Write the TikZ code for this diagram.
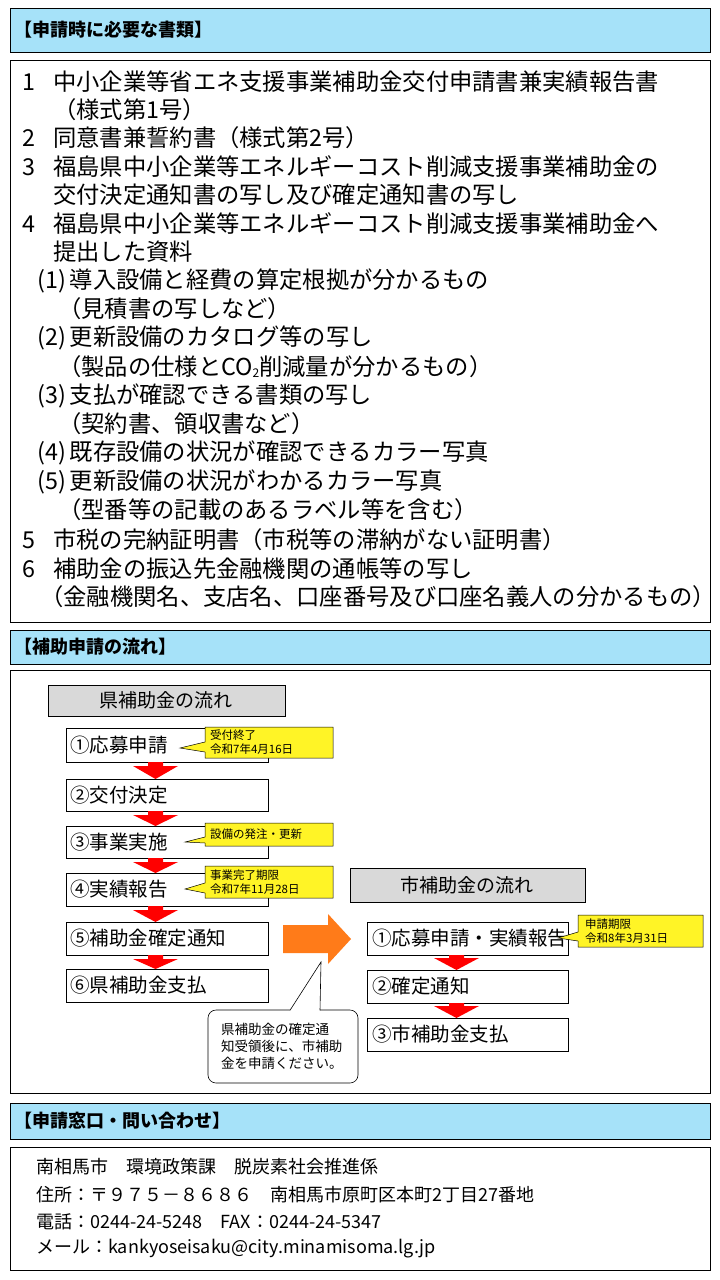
\documentclass[tikz,border=0pt]{standalone}
\usepackage{fontspec}
\setmainfont{Noto Sans CJK JP}
\begin{document}
\begin{tikzpicture}[x=1pt,y=-1pt,
  hdr/.style={draw=black,fill=cyan!35!white,line width=0.8pt},
  frame/.style={draw=black,line width=0.8pt},
  ln/.style={anchor=west,inner sep=0pt,font=\fontsize{23.3}{24}\selectfont},
  fbox/.style={draw=black,line width=0.8pt,fill=white},
  ftxt/.style={anchor=west,inner sep=0pt,font=\fontsize{19.5}{22}\selectfont},
  note/.style={draw=black,line width=0.5pt,fill=yellow!85!white},
  ntxt/.style={anchor=west,inner sep=0pt,align=left,font=\fontsize{11.5}{13.5}\selectfont},
  ctxt/.style={anchor=west,inner sep=0pt,font=\fontsize{18}{20}\selectfont},
  redarr/.style={fill=red,draw=none},
  gbox/.style={draw=black,line width=0.8pt,fill=gray!30}]
\useasboundingbox (0,0) rectangle (720,1280);
\fill[white] (0,0) rectangle (720,1280);
% header 1
\draw[hdr] (10,8) rectangle (710,52);
\node[ln,font=\bfseries\fontsize{18}{20}\selectfont] (h1) at (14,30) {【申請時に必要な書類】};
\draw[frame] (10,60) rectangle (710,622);
\foreach \y/\t [count=\i] in {82/1,138/2,167/3,224/4,540/5,569/6}{\node[ln] (n\i) at (22,\y) {\t};}
\node[ln] (a1) at (53,82) {中小企業等省エネ支援事業補助金交付申請書兼実績報告書};
\node[ln] (a2) at (53,110) {（様式第1号）};
\node[ln] (a3) at (53,138) {同意書兼誓約書（様式第2号）};
\node[ln] (a4) at (53,167) {福島県中小企業等エネルギーコスト削減支援事業補助金の};
\node[ln] (a5) at (53,195) {交付決定通知書の写し及び確定通知書の写し};
\node[ln] (a6) at (53,224) {福島県中小企業等エネルギーコスト削減支援事業補助金へ};
\node[ln] (a7) at (53,252) {提出した資料};
\node[ln] (b1) at (37,281) {(1)\,導入設備と経費の算定根拠が分かるもの};
\node[ln] (b2) at (58,309) {（見積書の写しなど）};
\node[ln] (b3) at (37,338) {(2)\,更新設備のカタログ等の写し};
\node[ln] (b4) at (58,367) {（製品の仕様とCO\raisebox{-2pt}{\fontsize{12}{12}\selectfont 2}削減量が分かるもの）};
\node[ln] (b5) at (37,396) {(3)\,支払が確認できる書類の写し};
\node[ln] (b6) at (58,424) {（契約書、領収書など）};
\node[ln] (b7) at (37,453) {(4)\,既存設備の状況が確認できるカラー写真};
\node[ln] (b8) at (37,482) {(5)\,更新設備の状況がわかるカラー写真};
\node[ln] (b9) at (58,510) {（型番等の記載のあるラベル等を含む）};
\node[ln] (c1) at (53,540) {市税の完納証明書（市税等の滞納がない証明書）};
\node[ln] (c2) at (53,569) {補助金の振込先金融機関の通帳等の写し};
\node[ln] (c3) at (40,597) {（金融機関名、支店名、口座番号及び口座名義人の分かるもの）};
% header 2
\draw[hdr] (10,630) rectangle (710,664);
\node[ln,font=\bfseries\fontsize{18}{20}\selectfont] (h2) at (14,647) {【補助申請の流れ】};
\draw[frame] (10,670) rectangle (710,1093);
% left flow
\draw[gbox] (48,685) rectangle (285,716);
\node[font=\fontsize{19}{22}\selectfont] (g1) at (166,700) {県補助金の流れ};
\foreach \t/\b/\txt [count=\i] in {728/762/①応募申請,779/811/②交付決定,826/858/③事業実施,873/906/④実績報告,922/955/⑤補助金確定通知,969/1002/⑥県補助金支払}{
  \draw[fbox] (66,\t) rectangle (268,\b);
  \node[ftxt] (L\i) at (70,{(\t+\b)/2}) {\txt};
}
\foreach \a/\b in {762/779,811/826,858/873,906/922,955/969}{
  \fill[redarr] (148,\a) -- (163,\a) -- (163,{\a+4}) -- (178,{\a+4}) -- (155.5,\b) -- (133,{\a+4}) -- (148,{\a+4}) -- cycle;
}
% callouts
\draw[note] (205,727) -- (333,727) -- (333,758) -- (205,758) -- (205,752) -- (180,748) -- (205,742) -- cycle;
\node[ntxt] (k1) at (210,742) {受付終了\\令和7年4月16日};
\draw[note] (205,823) -- (333,823) -- (333,846) -- (205,846) -- (205,843) -- (185,842) -- (205,837) -- cycle;
\node[ntxt] (k2) at (210,834) {設備の発注・更新};
\draw[note] (205,866) -- (333,866) -- (333,898) -- (205,898) -- (205,893) -- (185,889) -- (205,883) -- cycle;
\node[ntxt] (k3) at (210,882) {事業完了期限\\令和7年11月28日};
% orange arrow
\fill[orange!85!red!90!white] (283,925) -- (328,925) -- (328,914) -- (351,939) -- (328,964) -- (328,953) -- (283,953) -- cycle;
% bubble
\draw[line width=0.6pt,fill=white,rounded corners=8pt] (290,1010) -- (208,1010) -- (208,1083) -- (358,1083) -- (358,1010) -- (320,1010);
\draw[line width=0.6pt] (290,1010.3) -- (321,962) -- (320,1010.3);
\node[anchor=north west,inner sep=0pt,align=left,font=\fontsize{13.5}{17}\selectfont] (bub) at (221,1023) {県補助金の確定通\\知受領後に、市補助\\金を申請ください。};
% right flow
\draw[gbox] (350,868) rectangle (585,902);
\node[font=\fontsize{19}{22}\selectfont] (g2) at (467,885) {市補助金の流れ};
\foreach \t/\b/\txt [count=\i] in {922/955/①応募申請・実績報告,970/1003/②確定通知,1018/1051/③市補助金支払}{
  \draw[fbox] (367,\t) rectangle (568,\b);
  \node[ftxt] (R\i) at (372,{(\t+\b)/2}) {\txt};
}
\foreach \a/\b in {955/970,1003/1018}{
  \fill[redarr] (449,\a) -- (464,\a) -- (464,{\a+3}) -- (479,{\a+3}) -- (456.5,\b) -- (434,{\a+3}) -- (449,{\a+3}) -- cycle;
}
\draw[note] (578,915) -- (703,915) -- (703,947) -- (578,947) -- (578,941) -- (558,938) -- (578,932) -- cycle;
\node[ntxt] (k4) at (585,931) {申請期限\\令和8年3月31日};
% header 3
\draw[hdr] (10,1103) rectangle (710,1139);
\node[ln,font=\bfseries\fontsize{18}{20}\selectfont] (h3) at (14,1121) {【申請窓口・問い合わせ】};
\draw[frame] (10,1147) rectangle (710,1270);
\node[ctxt] (d1) at (36,1167) {南相馬市　環境政策課　脱炭素社会推進係};
\node[ctxt] (d2) at (36,1195) {住所：〒９７５－８６８６　南相馬市原町区本町2丁目27番地};
\node[ctxt] (d3) at (36,1222) {電話：0244-24-5248　FAX：0244-24-5347};
\node[ctxt] (d4) at (36,1249) {メール：kankyoseisaku@city.minamisoma.lg.jp};
\end{tikzpicture}
\end{document}
